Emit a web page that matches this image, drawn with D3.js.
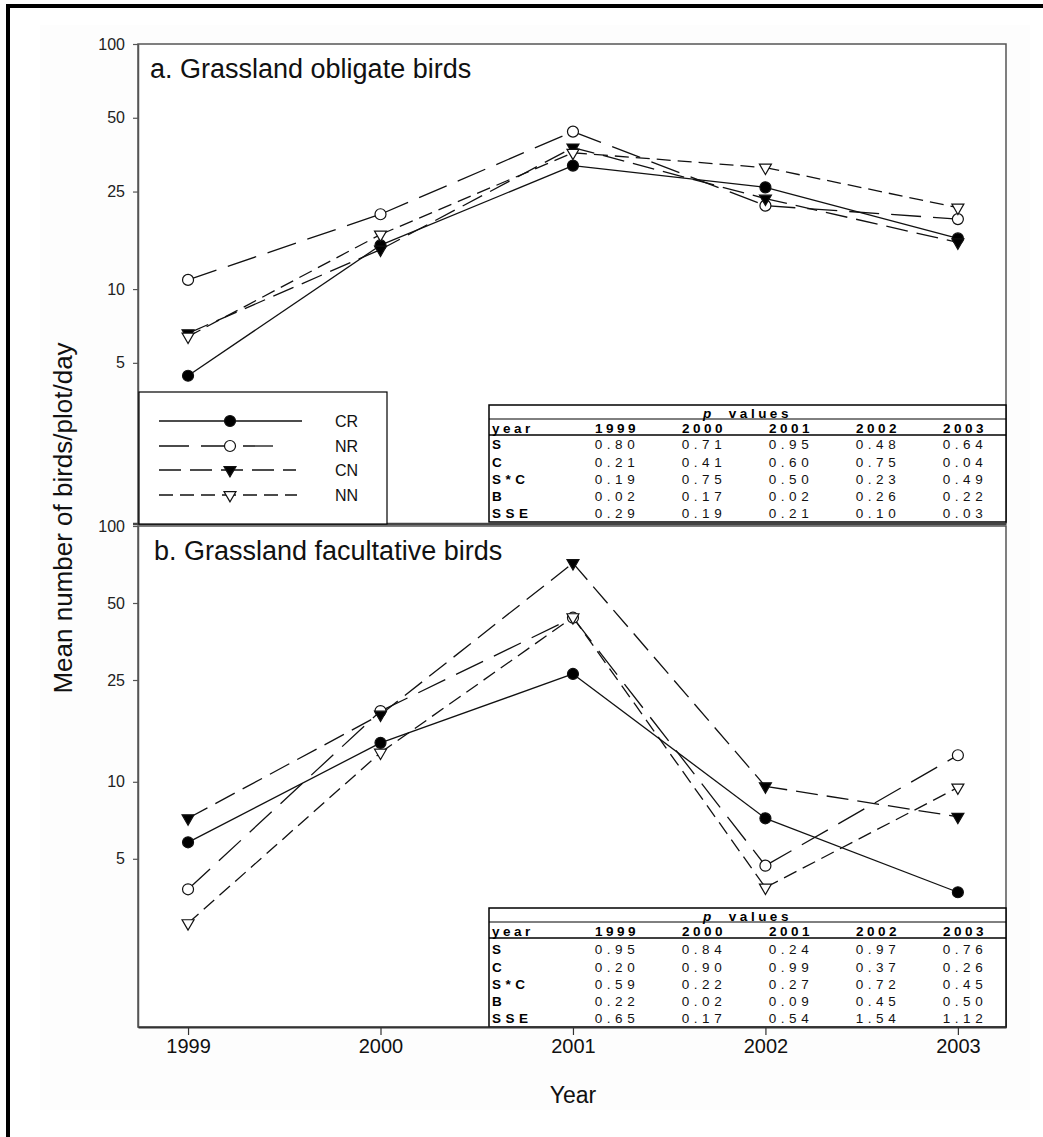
<!DOCTYPE html>
<html>
<head>
<meta charset="utf-8">
<script src="https://cdn.jsdelivr.net/npm/d3@7"></script>
<style>
  html, body { margin: 0; padding: 0; background: #fff; }
  svg { display: block; font-family: "Liberation Sans", Arial, sans-serif; }
</style>
</head>
<body>
<svg id="chart" width="1043" height="1137"></svg>
<script>
// ---- data ----
const years = [1999, 2000, 2001, 2002, 2003];
const yTicks = [5, 10, 25, 50, 100];
const treatments = ["CR", "NR", "CN", "NN"];

// a. Grassland obligate birds (mean birds/plot/day)
const obligateCR = [4.43, 15.1, 31.9, 26.0, 16.1];
const obligateNR = [10.9, 20.2, 43.9, 21.9, 19.3];
const obligateCN = [6.6, 14.5, 37.8, 23.4, 15.5];
const obligateNN = [6.4, 16.7, 36.0, 31.3, 21.5];

// b. Grassland facultative birds
const facultativeCR = [5.8, 14.2, 26.4, 7.2, 3.7];
const facultativeNR = [3.8, 18.9, 43.8, 4.7, 12.7];
const facultativeCN = [7.2, 18.3, 71.6, 9.6, 7.3];
const facultativeNN = [2.8, 13.0, 44.0, 3.86, 9.5];

// p-value tables
const pRows = ["S", "C", "S*C", "B", "SSE"];
const pObligate = [
  ["0.80", "0.71", "0.95", "0.48", "0.64"],
  ["0.21", "0.41", "0.60", "0.75", "0.04"],
  ["0.19", "0.75", "0.50", "0.23", "0.49"],
  ["0.02", "0.17", "0.02", "0.26", "0.22"],
  ["0.29", "0.19", "0.21", "0.10", "0.03"]
];
const pFacultative = [
  ["0.95", "0.84", "0.24", "0.97", "0.76"],
  ["0.20", "0.90", "0.99", "0.37", "0.26"],
  ["0.59", "0.22", "0.27", "0.72", "0.45"],
  ["0.22", "0.02", "0.09", "0.45", "0.50"],
  ["0.65", "0.17", "0.54", "1.54", "1.12"]
];

// ---- styles per treatment ----
const styles = {
  CR: { dash: null,     shape: "circle",   fill: "#000" },
  NR: { dash: "30,12",  shape: "circle",   fill: "#fff" },
  CN: { dash: "22,9",   shape: "triangle", fill: "#000" },
  NN: { dash: "14,7",   shape: "triangle", fill: "#fff" }
};

const svg = d3.select("#chart");
const ink = "#111";

// page frame and faint backdrop
svg.append("rect").attr("x", 40).attr("y", 25).attr("width", 990).attr("height", 1085)
  .attr("fill", "#fdfdfd");
svg.append("rect").attr("x", 8).attr("y", 6).attr("width", 1100).attr("height", 1200)
  .attr("fill", "none").attr("stroke", "#000").attr("stroke-width", 4);

const plotLeft = 138, plotRight = 1006;
const x = d3.scaleLinear().domain([1998.74, 2003.25]).range([plotLeft, plotRight]);

const panels = [
  { top: 44, bottom: 524, title: "a. Grassland obligate birds", titleX: 150, titleY: 78,
    series: { CR: obligateCR, NR: obligateNR, CN: obligateCN, NN: obligateNN },
    table: pObligate, tableTop: 405, tableBottom: 522 },
  { top: 526, bottom: 1027, title: "b. Grassland facultative birds", titleX: 154, titleY: 560,
    series: { CR: facultativeCR, NR: facultativeNR, CN: facultativeCN, NN: facultativeNN },
    table: pFacultative, tableTop: 908, tableBottom: 1027 }
];

function drawMarker(g, shape, fill, cx, cy) {
  if (shape === "circle") {
    g.append("circle").attr("cx", cx).attr("cy", cy).attr("r", 5.5)
      .attr("fill", fill).attr("stroke", ink).attr("stroke-width", 1.2);
  } else {
    g.append("path")
      .attr("d", d3.symbol(d3.symbolTriangle, 62)())
      .attr("transform", `translate(${cx},${cy}) rotate(180)`)
      .attr("fill", fill).attr("stroke", ink).attr("stroke-width", 1.2);
  }
}

panels.forEach((p, pi) => {
  const y = d3.scaleLog().domain([1.1, 100]).range([p.bottom, p.top]);
  const g = svg.append("g");

  // frame
  g.append("rect").attr("x", plotLeft).attr("y", p.top)
    .attr("width", plotRight - plotLeft).attr("height", p.bottom - p.top)
    .attr("fill", "#fff").attr("stroke", "#555").attr("stroke-width", 1.5);

  // y axis
  const ya = g.append("g").attr("transform", `translate(${plotLeft},0)`)
    .call(d3.axisLeft(y).tickValues(yTicks).tickFormat(d3.format("d"))
      .tickSize(5).tickSizeOuter(0).tickPadding(8));
  ya.select(".domain").attr("stroke", "#555").attr("stroke-width", 1.5);
  ya.selectAll(".tick line").attr("stroke", "#555").attr("stroke-width", 1.2);
  ya.selectAll(".tick text").attr("font-size", 16).attr("fill", "#222")
    .attr("font-family", "Liberation Sans, Arial, sans-serif");

  // panel title
  g.append("text").attr("x", p.titleX).attr("y", p.titleY)
    .attr("font-size", 27).attr("fill", "#111").text(p.title);

  // lines, one segment per interval so each dash pattern restarts at a point
  const line = d3.line().x(d => x(d[0])).y(d => y(d[1]));
  treatments.forEach(t => {
    const vals = p.series[t];
    for (let i = 0; i < years.length - 1; i++) {
      g.append("path")
        .attr("d", line([[years[i], vals[i]], [years[i + 1], vals[i + 1]]]))
        .attr("fill", "none").attr("stroke", ink).attr("stroke-width", 1.3)
        .attr("stroke-dasharray", styles[t].dash);
    }
  });
  treatments.forEach(t => {
    p.series[t].forEach((v, i) => drawMarker(g, styles[t].shape, styles[t].fill, x(years[i]), y(v)));
  });

  // p-value table
  const tl = 489, tr = 1006, tt = p.tableTop, tb = p.tableBottom;
  const tg = g.append("g");
  tg.append("rect").attr("x", tl).attr("y", tt).attr("width", tr - tl).attr("height", tb - tt)
    .attr("fill", "#fff").attr("stroke", "#000").attr("stroke-width", 1.5);
  tg.append("line").attr("x1", tl).attr("x2", tr).attr("y1", tt + 14).attr("y2", tt + 14)
    .attr("stroke", "#000").attr("stroke-width", 1);
  tg.append("line").attr("x1", tl).attr("x2", tr).attr("y1", tt + 30).attr("y2", tt + 30)
    .attr("stroke", "#000").attr("stroke-width", 1.5);

  const fs = 13.5;
  const title = tg.append("text").attr("x", (tl + tr) / 2).attr("y", tt + 12.5)
    .attr("text-anchor", "middle").attr("font-size", fs).attr("font-weight", "bold")
    .attr("letter-spacing", 3.5);
  title.append("tspan").attr("font-style", "italic").text("p");
  title.append("tspan").attr("dx", 14).text("values");

  const colX = years.map((yr, i) => 617 + 87 * i);
  tg.append("text").attr("x", tl + 3).attr("y", tt + 27.5).attr("font-size", fs)
    .attr("font-weight", "bold").attr("letter-spacing", 3.5).text("year");
  years.forEach((yr, i) => {
    tg.append("text").attr("x", colX[i]).attr("y", tt + 27.5).attr("text-anchor", "middle")
      .attr("font-size", fs).attr("font-weight", "bold").attr("letter-spacing", 3.5).text(yr);
  });
  const rowY = [44, 61.5, 78.5, 95.5, 112.5].map(o => tt + o + (pi === 0 ? 0 : 2));
  pRows.forEach((r, ri) => {
    tg.append("text").attr("x", tl + 3).attr("y", rowY[ri]).attr("font-size", fs)
      .attr("font-weight", "bold").attr("letter-spacing", 4.5).text(r);
    p.table[ri].forEach((v, ci) => {
      tg.append("text").attr("x", colX[ci]).attr("y", rowY[ri]).attr("text-anchor", "middle")
        .attr("font-size", fs).attr("letter-spacing", 4.5).attr("fill", "#111").text(v);
    });
  });

  // x axis on the lower panel
  if (pi === 1) {
    const xa = g.append("g").attr("transform", `translate(0,${p.bottom})`)
      .call(d3.axisBottom(x).tickValues(years).tickFormat(d3.format("d"))
        .tickSize(8).tickSizeOuter(0).tickPadding(4));
    xa.select(".domain").attr("stroke", "#333").attr("stroke-width", 2);
    xa.selectAll(".tick line").attr("stroke", "#333").attr("stroke-width", 1.2);
    xa.selectAll(".tick text").attr("font-size", 20).attr("fill", "#111")
      .attr("font-family", "Liberation Sans, Arial, sans-serif");
  }
});

// thick line where the two panels meet
svg.append("line").attr("x1", plotLeft - 5).attr("x2", plotRight).attr("y1", 524).attr("y2", 524)
  .attr("stroke", "#444").attr("stroke-width", 2.5);

// legend
const lg = svg.append("g");
lg.append("rect").attr("x", 139).attr("y", 392).attr("width", 248).attr("height", 132)
  .attr("fill", "#fff").attr("stroke", "#000").attr("stroke-width", 1.2);
const legendY = [421, 446, 470, 495];
// line ends chosen so each sample finishes on a whole dash
const legendEnd = { CR: 302, NR: 275, CN: 296, NN: 297 };
treatments.forEach((t, i) => {
  lg.append("line").attr("x1", 159).attr("x2", legendEnd[t]).attr("y1", legendY[i]).attr("y2", legendY[i])
    .attr("stroke", ink).attr("stroke-width", 1.3).attr("stroke-dasharray", styles[t].dash);
  drawMarker(lg, styles[t].shape, styles[t].fill, 230, legendY[i]);
  lg.append("text").attr("x", 335).attr("y", legendY[i]).attr("dy", "0.36em")
    .attr("font-size", 16).attr("fill", "#111").text(t);
});

// axis titles
svg.append("text").attr("transform", "translate(72,518) rotate(-90)")
  .attr("text-anchor", "middle").attr("font-size", 26).attr("fill", "#111")
  .text("Mean number of birds/plot/day");
svg.append("text").attr("x", 573).attr("y", 1103).attr("text-anchor", "middle")
  .attr("font-size", 23).attr("fill", "#111").text("Year");
</script>
</body>
</html>
